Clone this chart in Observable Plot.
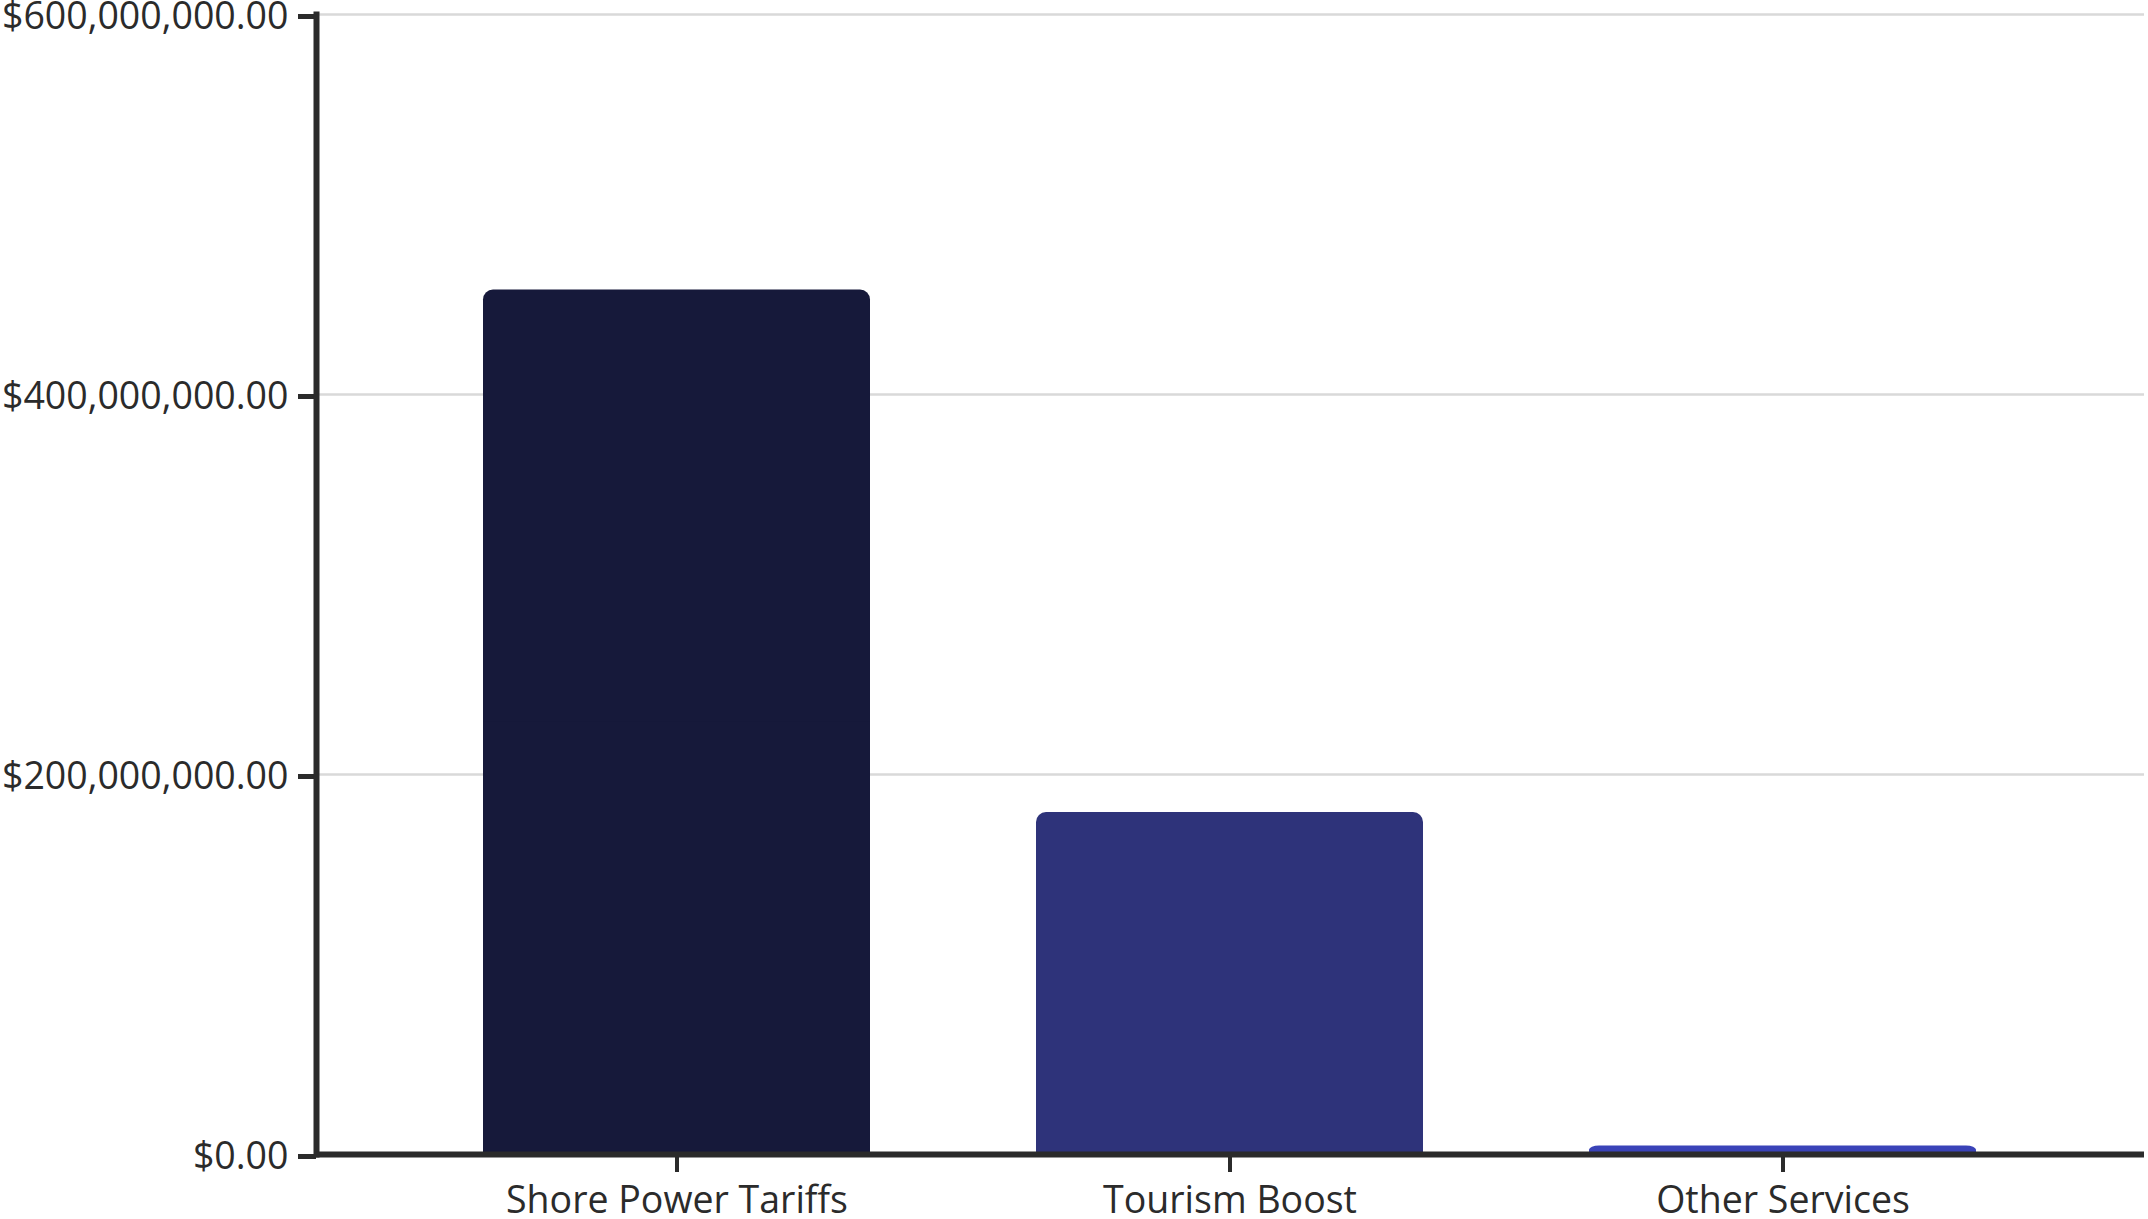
<!DOCTYPE html>
<html>
<head>
<meta charset="utf-8">
<script src="https://cdn.jsdelivr.net/npm/d3@7"></script>
<script src="https://cdn.jsdelivr.net/npm/@observablehq/plot@0.6"></script>
<style>
  html, body { margin: 0; padding: 0; background: #fff; }
  #chart svg { display: block; }
</style>
</head>
<body>
<div id="chart"></div>
<script>
// Revenue streams (USD)
const categories = ["Shore Power Tariffs", "Tourism Boost", "Other Services"];
const revenue = [455000000, 180000000, 4500000];
const barColors = ["#16193a", "#2e337a", "#3a43b8"];
const yTicks = [0, 200000000, 400000000, 600000000];

const rows = categories.map((c, i) => ({category: c, value: revenue[i], color: barColors[i]}));

const ink = "#2b2b2b";
const fmt = d3.format("$,.2f");

const plot = Plot.plot({
  width: 2148,
  height: 1219,
  marginTop: 14,
  marginLeft: 316,
  marginRight: 4,
  marginBottom: 65,
  style: {fontFamily: "'Open Sans', sans-serif", fontSize: "37.5px", color: ink, background: "#fff", overflow: "visible"},
  x: {domain: categories, padding: 0.3, label: null},
  y: {domain: [0, 600000000], label: null},
  marks: [
    Plot.gridY(yTicks, {stroke: "#d9d9d9", strokeWidth: 2.5, strokeOpacity: 1}),
    // rounded top corners; the lower half is squared off by a second plain bar
    Plot.barY(rows, {x: "category", y: "value", fill: "color", rx: 10}),
    Plot.barY(rows, {x: "category", y1: 0, y2: d => d.value / 2, fill: "color"}),
    Plot.axisY(yTicks, {tickFormat: fmt, tickSize: 18, tickPadding: 10, strokeWidth: 5, stroke: ink, fill: ink, fontSize: 37.5, dy: 2}),
    Plot.axisX({tickSize: 18, tickPadding: 14, strokeWidth: 4, stroke: ink, fill: ink, fontSize: 37.5}),
    Plot.frame({anchor: "left", stroke: ink, strokeWidth: 6}),
    Plot.ruleY([0], {stroke: ink, strokeWidth: 6})
  ]
});

document.getElementById("chart").appendChild(plot);
</script>
</body>
</html>
